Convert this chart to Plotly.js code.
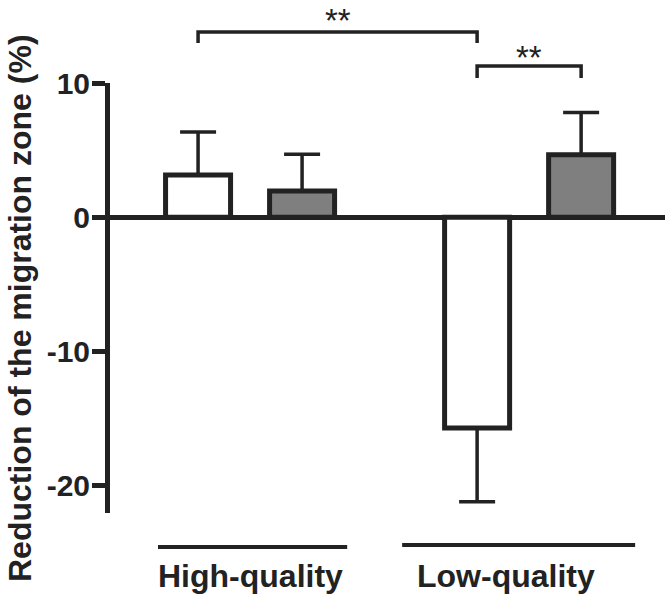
<!DOCTYPE html>
<html>
<head>
<meta charset="utf-8">
<script src="https://cdn.plot.ly/plotly-3.0.1.min.js"></script>
<style>html,body{margin:0;padding:0;background:#fff;}#chart{width:672px;height:596px;}</style>
</head>
<body>
<div id="chart"></div>
<script>
// ---- data ----
const groups = ['High-quality', 'Low-quality'];
const whiteValues = [3.15, -15.7];
const whiteErrors = [3.2, 5.5];
const grayValues = [1.95, 4.65];
const grayErrors = [2.75, 3.15];
const yTicks = [-20, -10, 0, 10];
const yTickLabels = ['-20', '-10', '0', '10'];
const yTitle = 'Reduction of the migration zone (%)';
const comparisons = [
  {from: [0, 'white'], to: [1, 'white'], label: '**'},
  {from: [1, 'white'], to: [1, 'gray'], label: '**'}
];

// ---- style ----
const ink = '#222222';
const grayFill = '#7f7f80';
const font = 'Liberation Sans, Arial, Helvetica, sans-serif';
const bargap = 0.2545;
const bargroupgap = 0.375;

function errUp(v, e) { return v.map((x, i) => x >= 0 ? e[i] : 0); }
function errDown(v, e) { return v.map((x, i) => x < 0 ? e[i] : 0); }

function makeTrace(name, vals, errs, fill) {
  return {
    type: 'bar', name: name, x: groups, y: vals,
    marker: {color: fill, line: {color: ink, width: 5}},
    error_y: {type: 'data', symmetric: false, array: errUp(vals, errs), arrayminus: errDown(vals, errs),
              color: ink, thickness: 3.5, width: 18},
    hoverinfo: 'skip'
  };
}

const traces = [
  makeTrace('White', whiteValues, whiteErrors, '#ffffff'),
  makeTrace('Gray', grayValues, grayErrors, grayFill)
];

// bar centre in category units
const halfSlot = (1 - bargap) / 4;
function barX(c) { return c[0] + (c[1] === 'white' ? -halfSlot : halfSlot); }

const bracketY = [[1.1186, 1.093], [1.0395, 1.0116]];
const starY = [1.193, 1.107];
const shapes = [];
const annotations = [];
comparisons.forEach((cmp, i) => {
  const x0 = barX(cmp.from), x1 = barX(cmp.to);
  const [yt, yb] = bracketY[i];
  shapes.push({type: 'path', xref: 'x', yref: 'paper',
    path: `M ${x0},${yb} L ${x0},${yt} L ${x1},${yt} L ${x1},${yb}`,
    line: {color: ink, width: 3.5}});
  annotations.push({xref: 'x', yref: 'paper', x: (x0 + x1) / 2, y: starY[i], yanchor: 'top',
    text: cmp.label, showarrow: false, font: {family: font, size: 33, color: ink}});
});

// group underlines and labels
const groupSpan = [[-0.33, 0.348], [0.545, 1.38]];
const groupLabelX = [0, 0.9176];
const underlineY = [-0.079, -0.0744];
groups.forEach((g, i) => {
  shapes.push({type: 'line', xref: 'x', yref: 'paper', x0: groupSpan[i][0], x1: groupSpan[i][1],
    y0: underlineY[i], y1: underlineY[i], line: {color: ink, width: 4}});
  annotations.push({xref: 'x', yref: 'paper', x: groupLabelX[i], y: -0.1, yanchor: 'top',
    text: g, showarrow: false, font: {family: font, size: 32, color: ink, weight: 'bold'}});
});

// y-axis title as rotated text
annotations.push({xref: 'paper', yref: 'paper', x: -0.1622, y: 0.4767, xanchor: 'center', yanchor: 'middle',
  textangle: -90, text: yTitle, showarrow: false,
  font: {family: font, size: 32, color: ink, weight: 'bold'}});

const layout = {
  width: 672, height: 596,
  margin: {l: 110, r: 7, t: 83, b: 83},
  paper_bgcolor: '#ffffff', plot_bgcolor: '#ffffff',
  showlegend: false,
  barmode: 'group', bargap: bargap, bargroupgap: bargroupgap,
  font: {family: font, color: ink},
  xaxis: {type: 'category', range: [-0.502, 1.487], showticklabels: false, ticks: '',
          showline: false, showgrid: false, zeroline: false, fixedrange: true},
  yaxis: {range: [-22.04, 10], tickvals: yTicks, ticktext: yTickLabels,
          ticks: 'outside', ticklen: 13, tickwidth: 5, tickcolor: ink,
          showline: true, linewidth: 5, linecolor: ink,
          showgrid: false, zeroline: true, zerolinewidth: 5, zerolinecolor: ink,
          ticklabelstandoff: -4,
          tickfont: {family: font, size: 30, color: ink, weight: 'bold'},
          automargin: false, fixedrange: true},
  shapes: shapes,
  annotations: annotations
};

Plotly.newPlot('chart', traces, layout, {displayModeBar: false, staticPlot: true});
</script>
</body>
</html>
